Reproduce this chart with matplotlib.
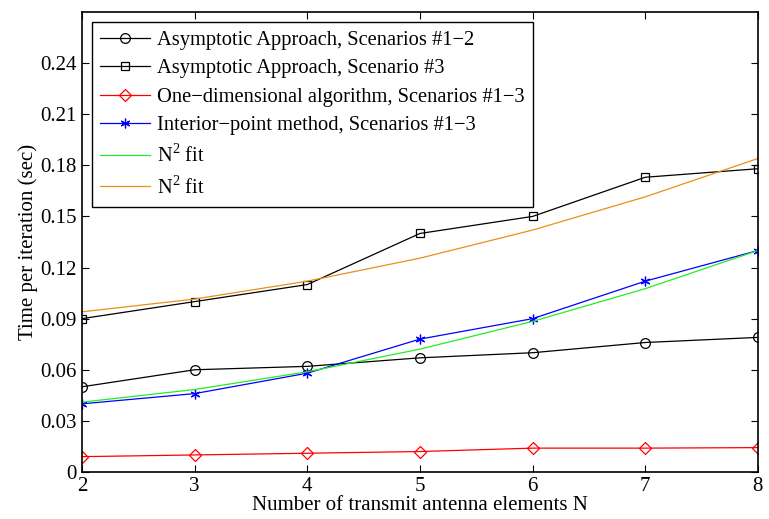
import matplotlib
matplotlib.use("Agg")
import matplotlib.pyplot as plt
import numpy as np

plt.rcParams['font.family'] = ['Liberation Serif', 'DejaVu Serif']
plt.rcParams['mathtext.fontset'] = 'custom'
plt.rcParams['mathtext.rm'] = 'Liberation Serif'

N = [2, 3, 4, 5, 6, 7, 8]

asym_12 = [0.050, 0.060, 0.062, 0.067, 0.070, 0.076, 0.079]
asym_3 = [0.090, 0.100, 0.110, 0.140, 0.150, 0.173, 0.178]
one_dim = [0.009, 0.010, 0.011, 0.012, 0.014, 0.014, 0.0143]
interior = [0.040, 0.046, 0.058, 0.078, 0.090, 0.112, 0.130]
fit_green = [0.041, 0.0484, 0.0588, 0.0721, 0.0884, 0.1076, 0.130]
fit_orange = [0.094, 0.1015, 0.112, 0.1255, 0.142, 0.1615, 0.184]

yticks = [0, 0.03, 0.06, 0.09, 0.12, 0.15, 0.18, 0.21, 0.24]
ytick_labels = ['0', '0.03', '0.06', '0.09', '0.12', '0.15', '0.18', '0.21', '0.24']


def main():
    fig = plt.figure(figsize=(7.69, 5.19), dpi=100)
    ax = fig.add_axes([0.1066, 0.0906, 0.879, 0.8863])

    ax.plot(N, asym_12, color='black', lw=0.9, marker='o', ms=7, mfc='none',
            mew=0.9, label='Asymptotic Approach, Scenarios #1\u22122')
    ax.plot(N, asym_3, color='black', lw=0.9, marker='s', ms=6, mfc='none',
            mew=0.9, label='Asymptotic Approach, Scenario #3')
    ax.plot(N, one_dim, color='red', lw=0.9, marker='D', ms=6, mfc='none',
            mew=0.9, label='One\u2212dimensional algorithm, Scenarios #1\u22123')
    ax.plot(N, interior, color='blue', lw=0.9, marker=(6, 2, 0), ms=7,
            mew=0.9, label='Interior\u2212point method, Scenarios #1\u22123')
    ax.plot(N, fit_green, color='#22ee22', lw=0.9, label='N$^2$ fit')
    ax.plot(N, fit_orange, color='#e8901c', lw=0.9, label='N$^2$ fit')

    ax.set_xlim(2, 8)
    ax.set_ylim(0, 0.27)
    ax.set_xticks(N)
    ax.set_yticks(yticks)
    ax.set_yticklabels(ytick_labels)
    ax.tick_params(direction='in', top=True, right=True, labelsize=15,
                   length=5, width=0.8)
    for s in ax.spines.values():
        s.set_linewidth(1.2)

    ax.set_xlabel('Number of transmit antenna elements N', fontsize=15, labelpad=0)
    ax.set_ylabel('Time per iteration (sec)', fontsize=15, labelpad=2)

    leg = ax.legend(loc='upper left', fontsize=14.8, fancybox=False,
                    edgecolor='black', framealpha=1, borderaxespad=0.5,
                    handlelength=2.4, handletextpad=0.35, labelspacing=0.44,
                    borderpad=0.4)
    leg.get_frame().set_linewidth(1.0)

    fig.savefig('out.png', dpi=100)


if __name__ == "__main__":
    main()
